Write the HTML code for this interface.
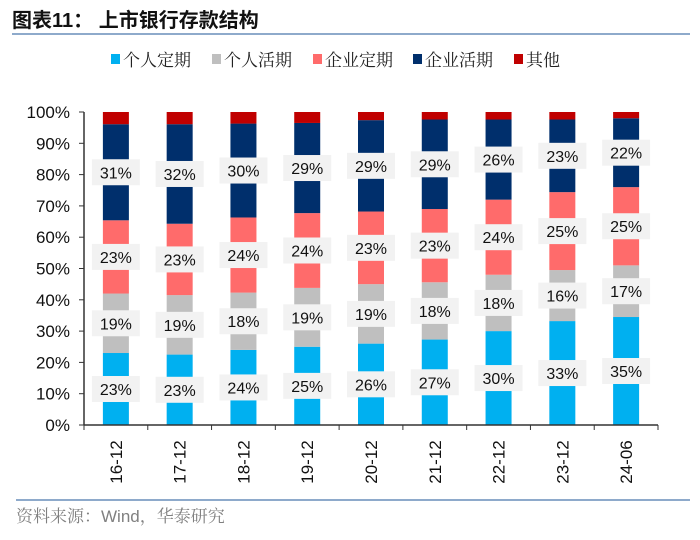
<!DOCTYPE html>
<html><head><meta charset="utf-8">
<style>
body{margin:0;background:#fff;}
svg text{font-family:"Liberation Sans","Noto Sans CJK SC",sans-serif;}
svg text.serif{font-family:"Liberation Sans","Noto Serif CJK SC",serif;}
</style></head>
<body>
<svg width="700" height="535" viewBox="0 0 700 535">
<text x="12" y="27" font-size="20" font-weight="bold" fill="#111">图表11：  上市银行存款结构</text>
<line x1="12" y1="34" x2="690" y2="34" stroke="#8eaacb" stroke-width="2"/>
<g id="legend"></g>
<g id="plot"></g>
<line x1="16" y1="500" x2="690" y2="500" stroke="#8eaacb" stroke-width="2"/>
<text class="serif" x="16" y="522" font-size="17" fill="#808080">资料来源：Wind，华泰研究</text>
</svg>
<script>
const categories=["16-12","17-12","18-12","19-12","20-12","21-12","22-12","23-12","24-06"];
const seriesNames=["个人定期","个人活期","企业定期","企业活期","其他"];
const personalFixed=[23,22.5,24,25,26,27.3,30,33.2,34.5];
const personalDemand=[19,19,18.3,18.8,19,18.3,18,16.3,16.5];
const corporateFixed=[23.4,22.8,24,23.9,23.2,23.4,24,24.9,25];
const corporateDemand=[30.7,31.8,30,28.8,29.2,28.6,25.6,23.2,22];
const other=[3.9,3.9,3.7,3.5,2.6,2.4,2.4,2.4,2];
const yTicks=[0,10,20,30,40,50,60,70,80,90,100];
const colors=["#00B0F0","#BFBFBF","#FF6B6B","#002F6C","#C00000"];
const labeled=[true,true,true,true,false];
const NS="http://www.w3.org/2000/svg";
const X0=84,X1=658,Y0=425,Y1=112;
const step=(X1-X0)/categories.length;
const xC=i=>X0+step*(i+0.5);
const yS=v=>Y0-(Y0-Y1)*v/100;
const mk=(t,a,p)=>{const e=document.createElementNS(NS,t);for(const k in a)e.setAttribute(k,a[k]);p.appendChild(e);return e;};
const plot=document.getElementById('plot');
const leg=document.getElementById('legend');
const lx=[111,212,313,413,514];
seriesNames.forEach((n,i)=>{
 const r=mk('rect',{x:lx[i],y:54,width:9,height:10,fill:colors[i]},leg);
 
 
 const t=mk('text',{x:lx[i]+12,y:66,'font-size':17,fill:'#222','class':'serif'},leg);
 t.textContent=n;
 
 
});
yTicks.forEach(v=>{
 const t=mk('text',{x:70,y:yS(v)+6,'font-size':17,'text-anchor':'end',fill:'#111'},plot);
 t.textContent=v+'%';
 
 
 const l=mk('line',{x1:X0-5,y1:yS(v),x2:X0,y2:yS(v),stroke:'#333'},plot);
 
 
});
const series=[personalFixed,personalDemand,corporateFixed,corporateDemand,other];
const bw=26;
const labelsLayer=[];
categories.forEach((c,i)=>{
 let cum=0;
 series.forEach((s,k)=>{
  const v=s[i];
  const r=mk('rect',{x:xC(i)-bw/2,y:yS(cum+v),width:bw,height:yS(cum)-yS(cum+v),fill:colors[k]},plot);
  
  
  if(labeled[k]) labelsLayer.push([xC(i),yS(cum+v/2),Math.round(v)+'%']);
  cum+=v;
 });
 const t=mk('text',{x:0,y:0,'font-size':17,'text-anchor':'middle',fill:'#111',transform:`translate(${xC(i)+6},462) rotate(-90)`},plot);
 t.textContent=c;
 
 
});
labelsLayer.forEach(([x,y,s])=>{
 const b=mk('rect',{x:x-24,y:y-13,width:48,height:26,fill:'#F2F2F2'},plot);
 
 
 const t=mk('text',{x:x,y:y+6,'font-size':16,'text-anchor':'middle',fill:'#111'},plot);
 t.textContent=s;
 
 
});
const ya=mk('line',{x1:X0,y1:Y1,x2:X0,y2:Y0,stroke:'#333','stroke-width':1.5},plot);


const xa=mk('line',{x1:X0,y1:Y0,x2:X1,y2:Y0,stroke:'#333','stroke-width':1.5},plot);


for(let i=0;i<=categories.length;i++){
 const l=mk('line',{x1:X0+step*i,y1:Y0,x2:X0+step*i,y2:Y0+5,stroke:'#333'},plot);
 
 
}
</script>
</body></html>
